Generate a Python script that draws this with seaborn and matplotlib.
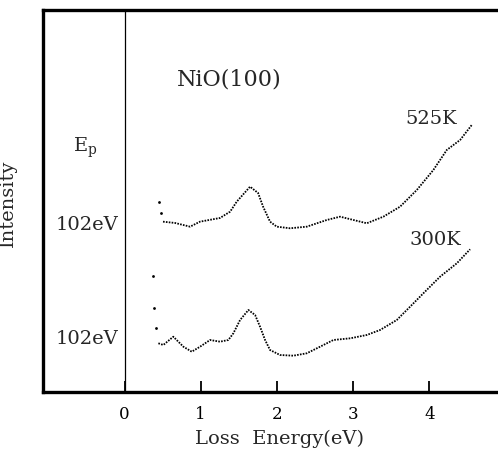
import numpy as np
import pandas as pd
import matplotlib
matplotlib.use("Agg")
import matplotlib.pyplot as plt
import seaborn as sns

# EELS spectra of NiO(100) (eV, arbitrary intensity units)
e_525 = [0.453, 0.475, 0.505, 0.663, 0.86, 0.99, 1.253, 1.385, 1.472, 1.55, 1.647,
         1.752, 1.818, 1.909, 1.997, 2.172, 2.391, 2.654, 2.828, 3.178, 3.396,
         3.615, 3.835, 4.052, 4.228, 4.403, 4.556]
i_525 = [190.3, 179, 170.3, 169, 165.3, 170.3, 174, 180.3, 190.3, 197, 205.3,
         199, 185.3, 170.3, 165.3, 163.7, 165.3, 172, 175.3, 168.7, 175.3,
         185.3, 202, 222, 242, 252, 267]

e_300 = [0.37, 0.391, 0.409, 0.444, 0.509, 0.64, 0.772, 0.882, 0.991, 1.122, 1.253,
         1.362, 1.428, 1.516, 1.625, 1.713, 1.778, 1.844, 1.909, 2.04, 2.215,
         2.391, 2.566, 2.74, 2.963, 3.178, 3.353, 3.572, 3.747, 3.921, 4.14,
         4.36, 4.534]
i_300 = [116.3, 84.3, 63.7, 48.7, 47, 55.3, 45.3, 40.3, 45.3, 52, 50.3,
         52, 58.7, 72, 82, 77, 65.3, 52, 42, 37, 36.3,
         38.7, 45.3, 52, 53.7, 57, 62, 72, 85.3, 98.7, 115.3,
         128.7, 142.7]

# isolated dots at the start of each scan
n_lead_525 = 2
n_lead_300 = 3

temps = ["525K", "300K"]
ep_labels = ["102eV", "102eV"]
x_ticks = [0, 1, 2, 3, 4]

sns.set_style("white")
plt.rcParams['font.family'] = ['DejaVu Serif']
plt.rcParams['mathtext.fontset'] = 'dejavuserif'

fig = plt.figure(figsize=(4.98, 4.5), dpi=100)
ax = fig.add_axes([0.0863, 0.1289, 0.9137, 0.849])

dots = (0, (0.9, 0.7))
for e, i, n in [(e_525, i_525, n_lead_525), (e_300, i_300, n_lead_300)]:
    sns.lineplot(x=e[n:], y=i[n:], sort=False, estimator=None, ax=ax,
                 color='black', lw=1.3, linestyle=dots)
    sns.scatterplot(x=e[:n], y=i[:n], ax=ax, color='black', s=4, linewidth=0)

ax.axvline(0, color='black', lw=0.9)

ax.set_xlim(-1.07, 4.90)
ax.set_ylim(0, 382)
ax.set_xticks(x_ticks)
ax.set_xticklabels([str(t) for t in x_ticks], fontsize=12)
ax.set_yticks([])
ax.tick_params(axis='x', direction='in', length=8, width=1.3, pad=10,
               bottom=True, colors='black')

for side in ['left', 'top', 'bottom']:
    ax.spines[side].set_linewidth(2.4)
    ax.spines[side].set_color('black')
ax.spines['right'].set_visible(False)

ax.set_xlabel("Loss  Energy(eV)", fontsize=14)
ax.xaxis.set_label_coords(0.519, -0.1)
ax.set_ylabel("Intensity", fontsize=14)
ax.yaxis.set_label_coords(-0.057, 0.495)

ax.text(1.38, 312, "NiO(100)", fontsize=16, ha='center', va='center')
ax.text(-0.51, 244, r"$\mathregular{E_p}$", fontsize=14, ha='center', va='center')
ax.text(-0.486, 167, ep_labels[0], fontsize=14, ha='center', va='center')
ax.text(-0.486, 52.5, ep_labels[1], fontsize=14, ha='center', va='center')
ax.text(4.02, 272.5, temps[0], fontsize=14, ha='center', va='center')
ax.text(4.075, 151.5, temps[1], fontsize=14, ha='center', va='center')

fig.savefig("out.png", dpi=100, facecolor='white')
